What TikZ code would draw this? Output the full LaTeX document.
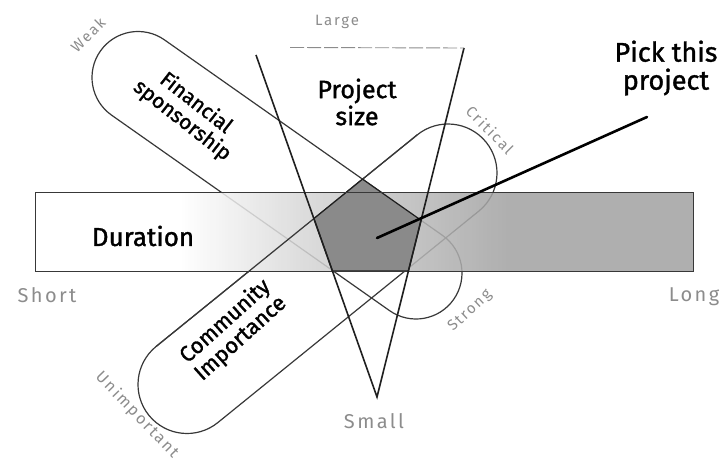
\documentclass[tikz,border=0pt]{standalone}
\usepackage{fontspec}
\setmainfont{Fira Sans}
\newfontfamily\handfont[FakeBold=1.3]{Fira Sans}
\newfontfamily\softfont[LetterSpace=12]{Fira Sans}
\usetikzlibrary{calc}
\definecolor{barg}{gray}{0.63}
\definecolor{pentg}{gray}{0.54}
\definecolor{lbl}{gray}{0.55}
\definecolor{pillline}{gray}{0.22}
\definecolor{triline}{gray}{0.12}
\pgfdeclarehorizontalshading{durshade}{100bp}{color(0bp)=(white); color(36bp)=(white); color(46bp)=(white!55!barg); color(61bp)=(barg); color(100bp)=(barg)}
\begin{document}
\begin{tikzpicture}[x=1pt,y=1pt,
  pill/.style={draw=pillline,line width=1.2pt},
  pillbg/.style={fill=white},
  tri/.style={draw=triline,line width=1.6pt},
  barline/.style={draw=pillline,line width=1pt},
  pent/.style={fill=pentg,draw=triline,line width=1.2pt,line join=round},
  pointer/.style={draw=black,line width=2.6pt,line cap=round},
  hand/.style={text=black,inner sep=0pt,align=center},
  soft/.style={text=lbl,inner sep=0pt,font=\softfont\fontsize{20}{21}\selectfont},
  softsmall/.style={text=lbl,inner sep=0pt,font=\softfont\fontsize{15}{16}\selectfont}
]
\useasboundingbox (0,0) rectangle (725,464);

% Financial sponsorship pill
\coordinate (fc1) at (138,386.5);
\coordinate (fc2) at (416,191);
\coordinate (fu1) at ($(fc1)+(55:46)$);
\coordinate (fu2) at ($(fc2)+(55:46)$);
\coordinate (fl1) at ($(fc1)+(-125:46)$);
\coordinate (fl2) at ($(fc2)+(-125:46)$);
% Community importance pill
\coordinate (cc1) at (187,79.5);
\coordinate (cc2) at (448,291);
\coordinate (cu1) at ($(cc1)+(129:49)$);
\coordinate (cu2) at ($(cc2)+(129:49)$);
\coordinate (cl1) at ($(cc1)+(-51:49)$);
\coordinate (cl2) at ($(cc2)+(-51:49)$);
% triangle
\coordinate (tl) at (256,409);
\coordinate (tr) at (464,416);
\coordinate (apex) at (377,67);
\coordinate (topl) at (290,416.5);
% bar
\coordinate (bl) at (35,193);
\coordinate (br) at (693,193);
\coordinate (bt) at (693,271);

% pill backgrounds
\path[pillbg] (fu1) -- (fu2) arc[start angle=55,end angle=-125,radius=46] -- (fl1) arc[start angle=235,end angle=55,radius=46] -- cycle;
\path[pillbg] (cu1) -- (cu2) arc[start angle=129,end angle=-51,radius=49] -- (cl1) arc[start angle=309,end angle=129,radius=49] -- cycle;
% pill outlines
\draw[pill] (fu1) -- (fu2) arc[start angle=55,end angle=-125,radius=46] -- (fl1) arc[start angle=235,end angle=55,radius=46] -- cycle;
\draw[pill] (cu1) -- (cu2) arc[start angle=129,end angle=-51,radius=49] -- (cl1) arc[start angle=309,end angle=129,radius=49] -- cycle;

% duration bar (fades the lines below it)
\shade[shading=durshade,opacity=0.85] (bl) rectangle (bt);
\draw[pill] (cu1) -- (cu2);

% pentagon
\coordinate (p1) at (intersection of fu1--fu2 and cu1--cu2);
\coordinate (p2) at (intersection of fu1--fu2 and tr--apex);
\coordinate (p3) at (intersection of tr--apex and bl--br);
\coordinate (p4) at (intersection of tl--apex and bl--br);
\coordinate (p5) at (intersection of tl--apex and cu1--cu2);
\draw[pent] (p1) -- (p2) -- (p3) -- (p4) -- (p5) -- cycle;

% bar outline
\draw[barline] (bl) rectangle (bt);

% triangle
\draw[tri] (tl) -- (apex) -- (tr);
\draw[draw=lbl,line width=0.9pt,dash pattern=on 14pt off 3pt] (topl) -- (tr);

% labels
\node[hand,font=\handfont\fontsize{25}{27}\selectfont] (psize) at (357,362) {Project\\size};
\node[hand,font=\handfont\fontsize{26}{27}\selectfont] (dur) at (143,228) {Duration};
\node[hand,font=\handfont\fontsize{21}{22}\selectfont,rotate=-38] (fin) at (189,352) {Financial\\sponsorship};
\node[hand,font=\handfont\fontsize{22}{23}\selectfont,rotate=42] (comm) at (233,134) {Community\\Importance};
\node[hand,font=\handfont\fontsize{27}{28}\selectfont] (pick) at (666,396) {Pick this\\project};

\node[softsmall] (large) at (337,442) {Large};
\node[soft] (short) at (47,169) {Short};
\node[soft] (long) at (694,167) {Long};
\node[soft] (small) at (374,43) {Small};
\node[softsmall,rotate=45] (weak) at (88,429) {Weak};
\node[softsmall,rotate=-45] (crit) at (490,334) {Critical};
\node[softsmall,rotate=43] (strong) at (470,153) {Strong};
\node[softsmall,font=\softfont\fontsize{16}{17}\selectfont,rotate=-46] (unimp) at (137,49) {Unimportant};

% pointer
\coordinate (ptr1) at (647,347);
\coordinate (ptr2) at (377,226);
\draw[pointer] (ptr1) -- (ptr2);
\end{tikzpicture}
\end{document}
